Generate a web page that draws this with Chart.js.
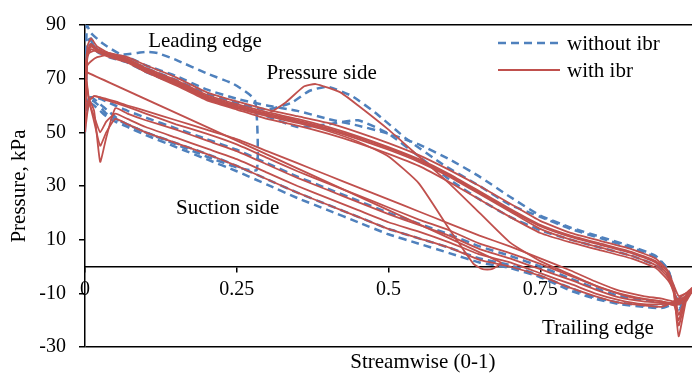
<!DOCTYPE html>
<html>
<head>
<meta charset="utf-8">
<script src="https://cdn.jsdelivr.net/npm/chart.js@4.4.0/dist/chart.umd.min.js"></script>
<style>
  html, body { margin: 0; padding: 0; background: #fff; }
</style>
</head>
<body>
<canvas id="chart" width="692" height="373"></canvas>
<script>
// streamwise stations (0 = leading edge, 1 = trailing edge)
const pressureX = [0, 0.004, 0.01, 0.02, 0.04, 0.07, 0.1, 0.15, 0.2, 0.25, 0.3, 0.35, 0.4, 0.45, 0.5, 0.55, 0.6, 0.65, 0.7, 0.75, 0.8, 0.85, 0.9, 0.94, 0.96, 0.97, 0.978, 0.99, 1.0];
const suctionX = [0.99, 0.97, 0.95, 0.92, 0.88, 0.84, 0.8, 0.75, 0.7, 0.65, 0.6, 0.55, 0.5, 0.45, 0.4, 0.35, 0.3, 0.25, 0.2, 0.15, 0.1, 0.07, 0.05, 0.035, 0.025, 0.015, 0.007, 0];

// with ibr (kPa)
const red1P = [50, 82, 85, 82, 79.5, 77.5, 74, 69.5, 64, 60.5, 57.5, 55, 52, 48.5, 44.5, 40, 34.5, 28, 21.5, 15.5, 11.5, 8.5, 5.5, 2, -2, -9, -26, -13, -9];
const red1S = [-13, -14.5, -13, -12, -10, -7, -3.5, 1, 5, 8.5, 13.5, 17.5, 22, 26.5, 31, 35.5, 40.5, 45.5, 49.5, 53, 57, 59.5, 61, 62, 63, 63.5, 62, 50];
const red2P = [58, 80, 83, 81, 79, 77, 73, 68.5, 63, 59.5, 56.5, 54, 51, 47.5, 43.5, 39, 33.5, 27, 20.5, 14, 10, 7, 4, 0.5, -4, -10, -22, -12, -9.5];
const red2S = [-12, -14, -13.5, -13, -11.5, -8.5, -5, -1, 3, 6.5, 11.5, 15.5, 19.5, 24, 28.5, 33, 38, 43, 47, 51, 54.5, 57, 59, 48, 39, 58, 62, 58];
const red3P = [73, 75, 76.5, 78, 79, 77, 73.5, 69, 63.5, 60, 57, 54.5, 51.5, 48, 44, 39.5, 34, 27.5, 21, 15, 11, 8, 5, 1.5, -3, -8, -18, -11, -8.5];
const red3S = [-11, -13.5, -14, -14, -12.5, -10, -6.5, -2.5, 1.5, 4.5, 9, 13, 16.5, 21, 25.5, 30, 35, 40, 44, 48, 52, 55, 57, 54, 50, 56, 61, 73];
const red4P = [62, 78, 81, 80, 78, 76, 72.5, 67.5, 62, 58.5, 55, 52.5, 49.5, 46, 42, 37.5, 31.5, 25, 18.5, 12.5, 9, 6, 3, -0.5, -5, -9, -14, -11, -9];
const red4S = [-10, -13, -15, -14.5, -13.5, -11, -8, -3.5, 0, 2.5, 7, 10.5, 14, 18.5, 23, 27.5, 32.5, 37.5, 42, 46, 50, 53, 55, 50, 45, 54, 61, 62];
const red5P = [75, 79, 80, 80.5, 79.5, 78, 75, 70.5, 65, 61.5, 58.5, 56, 53.5, 50, 46, 41.5, 36, 30, 23.5, 17, 12.5, 9.5, 6.5, 3, -1.5, -7, -11, -10, -8];
const red5S = [-12, -13, -12, -11, -9, -5.5, -1.5, 3, 7.5, 11.5, 16, 20.5, 25, 29.5, 34, 38.5, 43, 47.5, 51, 54.5, 58, 60, 61.5, 62.5, 63, 63.5, 62, 75];
const humpX = [0, 0.004, 0.01, 0.02, 0.04, 0.07, 0.1, 0.15, 0.2, 0.25, 0.3, 0.33, 0.36, 0.38, 0.42, 0.45, 0.5, 0.55, 0.6, 0.65, 0.7, 0.75, 0.8, 0.85, 0.9, 0.95, 0.97, 0.978, 0.99, 1.0];
const humpY = [60, 79, 82, 80.5, 78.5, 76.5, 73, 68.5, 63, 59.5, 57, 61, 67, 68, 65, 60, 51, 41, 31, 20, 9, 2, -3, -8, -11.5, -13, -14, -20, -11, -8];
const oddX = [0, 0.004, 0.01, 0.02, 0.04, 0.07, 0.1, 0.15, 0.2, 0.25, 0.3, 0.35, 0.4, 0.45, 0.5, 0.55, 0.6, 0.64, 0.655, 0.67, 0.685, 0];
const oddY = [57, 80, 82.5, 80.5, 78.5, 76.5, 72.5, 68, 62.5, 59, 56, 53.5, 50.5, 46.5, 41, 31, 14, 1, -1, -1, 1.5, 72.7];

// without ibr (kPa)
const blue1X = [0, 0.003, 0.01, 0.03, 0.06, 0.1, 0.12, 0.15, 0.2, 0.245, 0.28, 0.283, 0.25, 0.2, 0.15, 0.1, 0.06, 0.03, 0.01, 0];
const blue1Y = [50, 90, 87, 83, 79, 80, 79.5, 77, 72, 68, 62, 36, 37, 41, 45.5, 50, 54, 59.5, 63, 55];
const blue2P = [60, 84, 85, 81, 79, 78, 75, 71, 66, 62.5, 60, 58, 55, 52.5, 49.5, 45.5, 40, 33.5, 26, 19, 14.5, 11, 7.5, 4, -1, -8, -16, -12, -9];
const blue2S = [-12, -14, -15.5, -15, -14, -12, -9, -4, -0.5, 1.5, 5, 8.5, 12, 16.5, 21, 25.5, 30.5, 35.5, 40, 44.5, 49, 52, 54, 56, 58, 60, 61, 60];
const blue3X = [0, 0.004, 0.01, 0.02, 0.04, 0.07, 0.1, 0.15, 0.2, 0.25, 0.3, 0.34, 0.37, 0.4, 0.44, 0.48, 0.53, 0.59, 0.65, 0.7, 0.75, 0.8, 0.85, 0.9, 0.94, 0.96, 0.97, 0.978, 0.99, 1.0];
const blue3P = [58, 81, 83, 81, 79, 77, 74, 69.5, 64.5, 61, 58.5, 61, 65.5, 67, 63.5, 57, 47.5, 38, 30, 23, 18.5, 14, 10.5, 7, 3.5, -1, -8, -15, -11, -8.5];
const blue3S = [-12, -14, -13.5, -12.5, -11, -8, -4.5, 0, 4, 7.5, 12, 16, 20, 24.5, 29, 33.5, 38.5, 43.5, 47.5, 51.5, 55.5, 58, 60, 61.5, 62.5, 63, 63, 58];
const blue4P = [55, 82, 84, 80, 78, 76, 72.5, 68, 63, 60, 56, 52, 53, 54.5, 49.5, 41, 32.5, 25, 18.5, 13.5, 10, 7, 4, 0.5, -3, -8, -14, -11, -9];
const blue4S = [-11, -13, -15, -14.5, -13.5, -11.5, -8, -3.5, 0.5, 3, 7, 10.5, 14, 18.5, 23, 27.5, 32.5, 37.5, 42, 46, 50, 53, 55, 57, 59.5, 61.5, 62, 55];

const yTicks = { min: -30, max: 90, step: 20 };
const xTicks = { min: 0, max: 1, step: 0.25 };

// text placed in data units
const notes = [
  { text: 'Leading edge', x: 0.104, y: 81.8 },
  { text: 'Pressure side', x: 0.299, y: 69.7 },
  { text: 'Suction side', x: 0.15, y: 19.4 },
  { text: 'Trailing edge', x: 0.753, y: -25.3 },
  { text: 'Streamwise (0-1)', x: 0.437, y: -37.8 }
];

const RED = '#C0504D';
const BLUE = '#4F81BD';
const FONT = '"Liberation Serif", "Times New Roman", serif';

function curve(px, py, sx, sy) {
  const pts = px.map((x, i) => ({ x: x, y: py[i] }));
  if (sx) sx.forEach((x, i) => pts.push({ x: x, y: sy[i] }));
  return pts;
}

const redCurves = [
  curve(pressureX, red1P, suctionX, red1S),
  curve(pressureX, red2P, suctionX, red2S),
  curve(pressureX, red3P, suctionX, red3S),
  curve(pressureX, red4P, suctionX, red4S),
  curve(pressureX, red5P, suctionX, red5S),
  curve(humpX, humpY),
  curve(oddX, oddY)
];
const blueCurves = [
  curve(blue1X, blue1Y),
  curve(pressureX, blue2P, suctionX, blue2S),
  curve(blue3X, blue3P, suctionX, blue3S),
  curve(pressureX, blue4P, suctionX, blue4S)
];

const datasets = [];
blueCurves.forEach((d, i) => datasets.push({
  label: i === 0 ? 'without ibr' : '', data: d, showLine: true, borderColor: BLUE,
  borderWidth: 2.5, borderDash: [8, 5], pointRadius: 0, tension: 0.15, order: 2
}));
redCurves.forEach((d, i) => datasets.push({
  label: i === 0 ? 'with ibr' : '', data: d, showLine: true, borderColor: RED,
  borderWidth: 1.8, pointRadius: 0, tension: 0.15, order: 1
}));

const textPlugin = {
  id: 'textPlugin',
  afterDraw(chart) {
    const ctx = chart.ctx;
    const sx = chart.scales.x, sy = chart.scales.y;
    ctx.save();
    ctx.fillStyle = '#000';
    ctx.font = '21px ' + FONT;
    ctx.textBaseline = 'alphabetic';
    notes.forEach(n => ctx.fillText(n.text, sx.getPixelForValue(n.x), sy.getPixelForValue(n.y)));

    // legend
    ctx.lineWidth = 2.5;
    ctx.strokeStyle = BLUE;
    ctx.setLineDash([8, 5]);
    ctx.beginPath(); ctx.moveTo(498, 43); ctx.lineTo(560, 43); ctx.stroke();
    ctx.setLineDash([]);
    ctx.lineWidth = 1.8;
    ctx.strokeStyle = RED;
    ctx.beginPath(); ctx.moveTo(498, 70); ctx.lineTo(560, 70); ctx.stroke();
    ctx.fillText('without ibr', 567, 50);
    ctx.fillText('with ibr', 567, 77);
    ctx.restore();
  }
};

new Chart(document.getElementById('chart').getContext('2d'), {
  type: 'scatter',
  data: { datasets: datasets },
  options: {
    responsive: false,
    animation: false,
    layout: { padding: { top: 20, right: 0, bottom: 26, left: 0 } },
    plugins: { legend: { display: false }, tooltip: { enabled: false } },
    scales: {
      x: {
        type: 'linear',
        position: { y: 0 },
        min: xTicks.min, max: xTicks.max,
        afterBuildTicks: s => { s.ticks = s.ticks.filter(t => t.value < xTicks.max); },
        ticks: {
          stepSize: xTicks.step, color: '#000', padding: 6,
          font: { family: FONT, size: 20 },
          callback: v => String(v)
        },
        grid: { drawOnChartArea: false, tickLength: 5, color: '#000', lineWidth: 1.5 },
        border: { display: true, color: '#000', width: 1.5 }
      },
      y: {
        min: yTicks.min, max: yTicks.max,
        ticks: { stepSize: yTicks.step, color: '#000', padding: 13, font: { family: FONT, size: 20 } },
        grid: {
          tickLength: 6, tickColor: '#000', lineWidth: 1.5,
          color: c => (c.tick && (c.tick.value === yTicks.max || c.tick.value === yTicks.min)) ? '#000' : 'rgba(0,0,0,0)'
        },
        border: { display: true, color: '#000', width: 1.5 },
        title: {
          display: true, text: 'Pressure, kPa', color: '#000',
          font: { family: FONT, size: 21 }, padding: { top: 7, bottom: 0 }
        },
        afterFit: s => { s.width = 85; }
      }
    }
  },
  plugins: [textPlugin]
});
</script>
</body>
</html>
